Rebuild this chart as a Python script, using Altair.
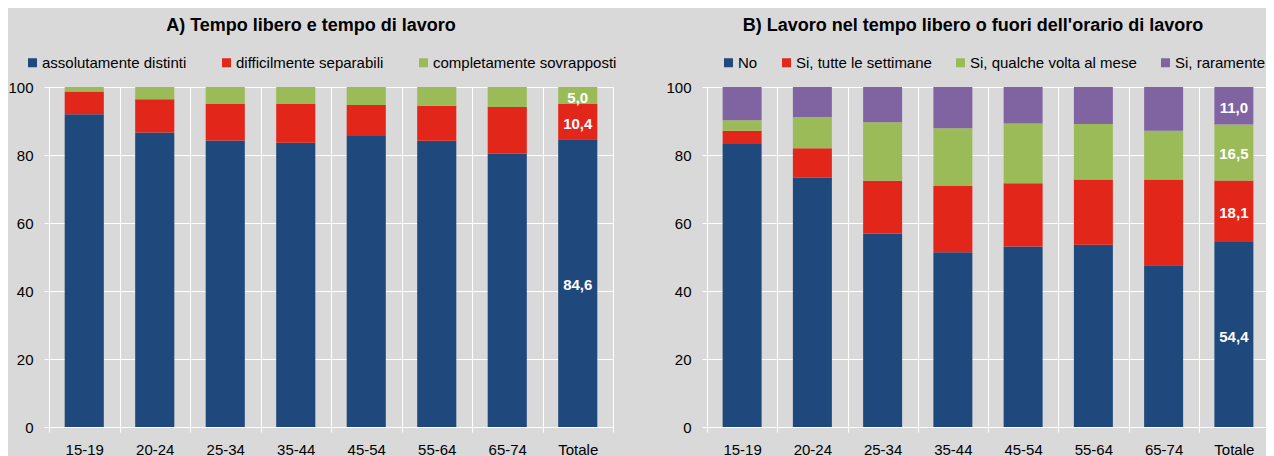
import altair as alt
import pandas as pd

cats = ["15-19", "20-24", "25-34", "35-44", "45-54", "55-64", "65-74", "Totale"]

a_series = ["assolutamente distinti", "difficilmente separabili", "completamente sovrapposti"]
a_distinti = [92.0, 86.6, 84.3, 83.6, 85.6, 84.2, 80.4, 84.6]
a_difficili = [6.7, 9.8, 10.7, 11.4, 9.1, 10.3, 13.7, 10.4]
a_sovrapposti = [1.3, 3.6, 5.0, 5.0, 5.3, 5.5, 5.9, 5.0]
a_colors = ["#1F497D", "#E3261A", "#9BBB59"]

b_series = ["No", "Si, tutte le settimane", "Si, qualche volta al mese", "Si, raramente"]
b_no = [83.2, 73.3, 56.9, 51.4, 53.1, 53.6, 47.6, 54.4]
b_settimane = [3.9, 8.7, 15.5, 19.5, 18.6, 19.2, 25.2, 18.1]
b_mese = [3.1, 9.2, 17.2, 17.0, 17.6, 16.3, 14.3, 16.5]
b_raramente = [9.8, 8.8, 10.4, 12.1, 10.7, 10.9, 12.9, 11.0]
b_colors = ["#1F497D", "#E3261A", "#9BBB59", "#8064A2"]

FONT = "Liberation Sans, Arial, sans-serif"


def long_df(series, arrays):
    rows = []
    for si, (name, vals) in enumerate(zip(series, arrays)):
        for c, v in zip(cats, vals):
            rows.append({"cat": c, "serie": name, "idx": si, "value": v,
                         "label": f"{v:.1f}".replace(".", ",")})
    return pd.DataFrame(rows)


def panel(df, series, colors, title, width, title_dx, legend_x, col_pad):
    base = alt.Chart(df)
    x = alt.X("cat:N", sort=cats, title=None,
              scale=alt.Scale(paddingInner=0, paddingOuter=0),
              axis=alt.Axis(tickBand="extent", labelAngle=0, labelFontSize=15,
                            labelColor="black", domainColor="white", tickColor="white",
                            gridColor="white", grid=True, tickSize=5, labelPadding=10,
                            labelFont=FONT))
    bars = base.mark_bar(width=alt.RelativeBandSize(0.555)).encode(
        x=x,
        y=alt.Y("value:Q", stack="zero", title=None,
                scale=alt.Scale(domain=[0, 100], nice=False),
                axis=alt.Axis(values=[0, 20, 40, 60, 80, 100], labelFontSize=15,
                              labelColor="black", domainColor="white", tickColor="white",
                              gridColor="white", tickSize=5, labelPadding=11,
                              labelFont=FONT)),
        color=alt.Color("serie:N", sort=series,
                        scale=alt.Scale(domain=series, range=colors),
                        legend=alt.Legend(orient="none", legendX=legend_x, legendY=-32,
                                          direction="horizontal", columns=len(series),
                                          title=None, symbolType="square", symbolSize=81,
                                          symbolStrokeWidth=0, labelFontSize=15,
                                          labelFont=FONT, labelColor="black",
                                          columnPadding=col_pad, labelOffset=2,
                                          labelLimit=400)),
        order=alt.Order("idx:Q", sort="ascending"),
    )
    texts = base.transform_filter(alt.datum.cat == "Totale").transform_stack(
        stack="value", groupby=["cat"], sort=[alt.SortField("idx")], as_=["y0", "y1"]
    ).transform_calculate(mid="(datum.y0 + datum.y1) / 2").mark_text(
        color="white", fontWeight="bold", fontSize=15, font=FONT, baseline="middle", dy=2
    ).encode(x=alt.X("cat:N", sort=cats), y=alt.Y("mid:Q"), text="label:N")
    return alt.layer(bars, texts).properties(
        width=width, height=340,
        title=alt.TitleParams(title, fontSize=18, fontWeight="bold", font=FONT,
                              color="black", anchor="middle", frame="group",
                              dx=title_dx, offset=20),
    )


df_a = long_df(a_series, [a_distinti, a_difficili, a_sovrapposti])
df_b = long_df(b_series, [b_no, b_settimane, b_mese, b_raramente])

pa = panel(df_a, a_series, a_colors, "A) Tempo libero e tempo di lavoro", 564, -20, -24, 32)
pb = panel(df_b, b_series, b_colors, "B) Lavoro nel tempo libero o fuori dell'orario di lavoro",
           562, -15, 14, 21)

chart = alt.hconcat(pa, pb, spacing=47).resolve_scale(color="independent").properties(
    background="#D9D9D9",
    autosize=alt.AutoSizeParams(type="none"),
    padding={"left": 41, "top": 79, "right": 1217, "bottom": 361},
).configure_view(stroke=None).configure(font=FONT)

chart.save("out.html", embed_options={"renderer": "svg", "actions": False})
